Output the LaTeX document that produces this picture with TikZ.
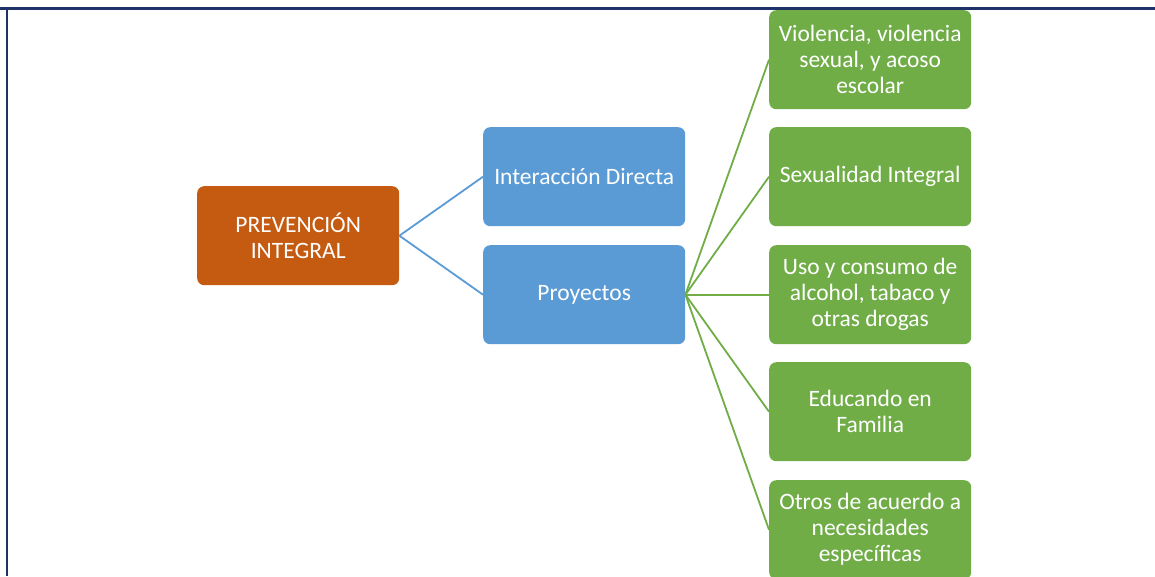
\documentclass[tikz,border=0pt]{standalone}
\usepackage{fontspec}
\setmainfont{Carlito}
\definecolor{orng}{HTML}{C55A11}
\definecolor{blu}{HTML}{5B9BD5}
\definecolor{grn}{HTML}{70AD47}
\definecolor{navy}{HTML}{1F3268}
\begin{document}
\begin{tikzpicture}[x=1pt,y=-1pt,
  box/.style={rounded corners=7pt, minimum width=202pt, minimum height=99pt, align=flush center, text=white, inner sep=1pt, font=\fontsize{23.5}{26}\selectfont, anchor=north west},
  obox/.style={box, fill=orng},
  bbox/.style={box, fill=blu},
  gbox/.style={box, fill=grn, text width=200pt},
  bline/.style={draw=blu, line width=1.8pt},
  gline/.style={draw=grn, line width=1.8pt}]
\useasboundingbox (0,0) rectangle (1155,576);
\begin{scope}
\clip (0,0) rectangle (1155,576);
\node[obox] (prev) at (197,186) {PREVENCIÓN\\INTEGRAL};
\node[bbox] (inter) at (483,127) {Interacción Directa};
\node[bbox] (proy) at (483,245) {Proyectos};
\node[gbox] (g1) at (769,10) {Violencia, violencia\\sexual, y acoso\\escolar};
\node[gbox] (g2) at (769,127) {Sexualidad Integral};
\node[gbox] (g3) at (769,245) {Uso y consumo de\\alcohol, tabaco y\\otras drogas};
\node[gbox] (g4) at (769,362) {Educando en\\Familia};
\node[gbox] (g5) at (769,480) {Otros de acuerdo a\\necesidades\\específicas};
\draw[bline] (prev.east) -- (inter.west);
\draw[bline] (prev.east) -- (proy.west);
\foreach \g in {g1,g2,g3,g4,g5} \draw[gline] (proy.east) -- (\g.west);
\draw[navy, line width=2.4pt] (0,8.3) -- (1155,8.3);
\draw[navy, line width=2.4pt] (7,8.3) -- (7,576);
\end{scope}
\end{tikzpicture}
\end{document}
